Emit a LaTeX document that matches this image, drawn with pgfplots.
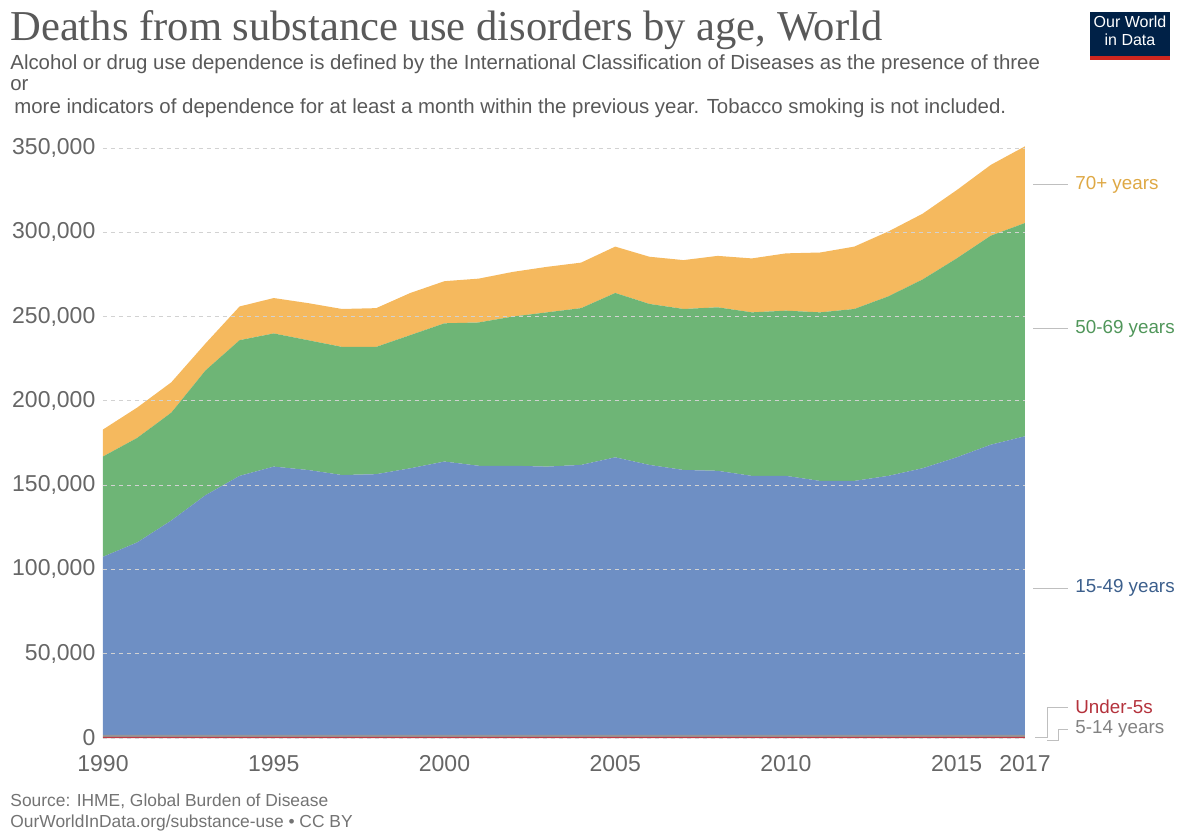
\documentclass[border=0pt]{standalone}
\usepackage{fontspec}
\setmainfont{Liberation Sans}
\newfontfamily\titlefont{Liberation Serif}
\usepackage{pgfplots}
\pgfplotsset{compat=1.18}
\usepackage{pgfplotstable}

\definecolor{cblue}{RGB}{110,143,196}
\definecolor{cgreen}{RGB}{110,181,118}
\definecolor{corange}{RGB}{245,185,94}
\definecolor{cred}{RGB}{190,60,70}
\definecolor{cgrey}{RGB}{150,150,150}
\definecolor{lorange}{RGB}{222,168,68}
\definecolor{lgreen}{RGB}{80,150,90}
\definecolor{lblue}{RGB}{60,95,140}
\definecolor{lred}{RGB}{180,50,60}
\definecolor{lgrey}{RGB}{130,130,130}
\definecolor{owid}{RGB}{0,33,71}
\definecolor{owidred}{RGB}{206,38,30}

\pgfplotstableread{
year u5 a514 a1549 a5069 a70
1990 600 1200 105700 59500 16000
1991 600 1200 114200 62000 18000
1992 600 1200 127200 64000 18000
1993 600 1200 142200 74000 16000
1994 600 1200 153700 80500 20000
1995 600 1200 159200 79000 21000
1996 600 1200 157200 77000 22000
1997 600 1200 154200 76000 22500
1998 600 1200 154700 75500 23000
1999 600 1200 158200 79000 25000
2000 600 1200 162200 82000 25000
2001 600 1200 159700 85000 26000
2002 600 1200 159700 88500 26500
2003 600 1200 159200 91500 27000
2004 600 1200 160200 93000 27000
2005 600 1200 164700 97500 27500
2006 600 1200 160200 95500 28000
2007 600 1200 157200 95500 29000
2008 600 1200 156700 97000 30500
2009 600 1200 153700 97000 32000
2010 600 1200 153700 98000 34000
2011 600 1200 150700 100000 35500
2012 600 1200 150700 102000 37000
2013 600 1200 153700 106500 38500
2014 600 1200 158200 112000 39000
2015 600 1200 164700 118000 40500
2016 600 1200 172200 124000 42000
2017 600 1200 177200 126500 45500
}\data

\begin{document}
\begin{tikzpicture}
\path[use as bounding box] (0,0) rectangle (590pt,416pt);
\begin{axis}[
  at={(51.5pt,47pt)}, anchor=south west,
  scale only axis, width=461pt, height=296.686pt,
  xmin=1990, xmax=2017, ymin=0, ymax=352000,
  stack plots=y, area style,
  axis lines=left, axis line style={draw=none}, tick style={draw=none},
  xtick={1990,1995,2000,2005,2010,2015,2017},
  ytick={0,50000,100000,150000,200000,250000,300000,350000},
  ymajorgrids, grid style={dash pattern=on 2pt off 2pt, gray!35, line width=0.4pt},
  scaled y ticks=false,
  /pgf/number format/assume math mode=true,
  yticklabel style={/pgf/number format/.cd, fixed, 1000 sep={,}, /tikz/.cd,
    font=\fontsize{11.5}{12}\selectfont, text=black!60, anchor=east, inner sep=0pt, xshift=-1.5pt},
  xticklabel style={/pgf/number format/.cd, 1000 sep={}, /tikz/.cd,
    font=\fontsize{11.5}{12}\selectfont, text=black!60, anchor=north, inner sep=0pt, yshift=-6.5pt},
]
\addplot[fill=cred, draw=none] table[x=year,y=u5]{\data} \closedcycle;
\addplot[fill=cgrey, draw=none] table[x=year,y=a514]{\data} \closedcycle;
\addplot[fill=cblue, draw=none] table[x=year,y=a1549]{\data} \closedcycle;
\addplot[fill=cgreen, draw=none] table[x=year,y=a5069]{\data} \closedcycle;
\addplot[fill=corange, draw=none] table[x=year,y=a70]{\data} \closedcycle;
\end{axis}
\begin{scope}[shift={(0,416pt)}, x=0.5pt, y=-0.5pt]
  % title and subtitle
  \node[anchor=base west, inner sep=0pt, text=black!65] at (10,41) {\titlefont\fontsize{21.3}{23}\selectfont Deaths from substance use disorders by age, World};
  \node[anchor=base west, inner sep=0pt, text=black!65] at (10,70) {\fontsize{10.2}{11}\selectfont Alcohol or drug use dependence is defined by the International Classification of Diseases as the presence of three};
  \node[anchor=base west, inner sep=0pt, text=black!65] at (10,91) {\fontsize{10.2}{11}\selectfont or};
  \node[anchor=base west, inner sep=0pt, text=black!65] at (14,114) {\fontsize{10.2}{11}\selectfont more indicators of dependence for at least a month within the previous year. Tobacco smoking is not included.};
  % logo
  \fill[owid] (1090,12) rectangle (1170,60);
  \fill[owidred] (1090,56) rectangle (1170,60);
  \node[text=white, inner sep=0pt, anchor=base] at (1130,28) {\fontsize{8}{9}\selectfont Our World};
  \node[text=white, inner sep=0pt, anchor=base] at (1130,46) {\fontsize{8}{9}\selectfont in Data};
  % right labels
  \draw[gray!50, line width=0.5pt] (1033,185) -- (1068,185);
  \node[anchor=west, inner sep=0pt, text=lorange] at (1075,185) {\fontsize{9.4}{10}\selectfont 70+ years};
  \draw[gray!50, line width=0.5pt] (1033,329) -- (1068,329);
  \node[anchor=west, inner sep=0pt, text=lgreen] at (1075,329) {\fontsize{9.4}{10}\selectfont 50-69 years};
  \draw[gray!50, line width=0.5pt] (1033,588) -- (1068,588);
  \node[anchor=west, inner sep=0pt, text=lblue] at (1075,588) {\fontsize{9.4}{10}\selectfont 15-49 years};
  \draw[gray!50, line width=0.5pt] (1035,737) -- (1047,737) -- (1047,707) -- (1068,707);
  \node[anchor=west, inner sep=0pt, text=lred] at (1075,707) {\fontsize{9.4}{10}\selectfont Under-5s};
  \draw[gray!50, line width=0.5pt] (1047,740) -- (1058,740) -- (1058,729) -- (1068,729);
  \node[anchor=west, inner sep=0pt, text=lgrey] at (1075,729) {\fontsize{9.4}{10}\selectfont 5-14 years};
  % source
  \node[anchor=base west, inner sep=0pt, text=black!55] at (10,806) {\fontsize{8.7}{9}\selectfont Source: IHME, Global Burden of Disease};
  \node[anchor=base west, inner sep=0pt, text=black!55] at (10,827) {\fontsize{8.7}{9}\selectfont OurWorldInData.org/substance-use • CC BY};
\end{scope}
\end{tikzpicture}
\end{document}
